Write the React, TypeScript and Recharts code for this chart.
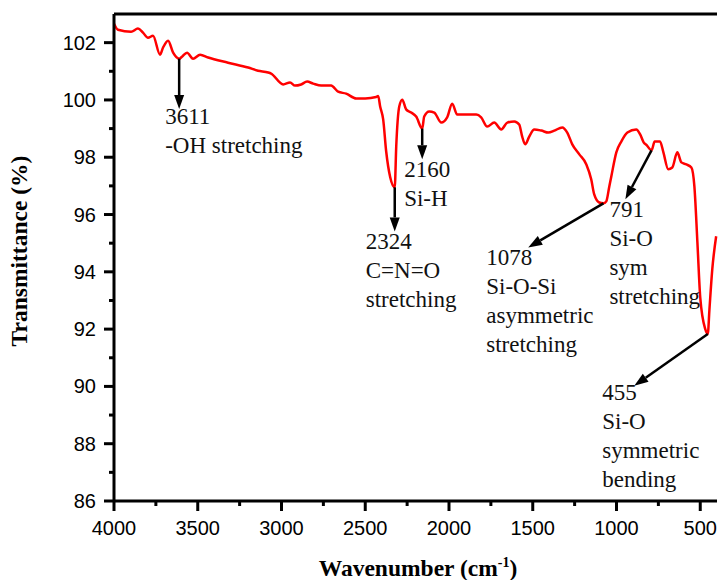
import { Label, Line, LineChart, ReferenceLine, XAxis, YAxis } from "recharts";

const wavenumber = [
  4000, 3976, 3898, 3857, 3827, 3797, 3767, 3725, 3707, 3677, 3647, 3611, 3594, 3564, 3528, 3486, 3438,
  3319, 3199, 3140, 3080, 3062, 2990, 2949, 2919, 2883, 2847, 2811, 2763, 2704, 2662, 2614, 2554, 2500,
  2435, 2423, 2411, 2393, 2375, 2351, 2324, 2315, 2297, 2279, 2256, 2226, 2196, 2160, 2148, 2118, 2088,
  2046, 2011, 1981, 1951, 1897, 1837, 1808, 1772, 1730, 1688, 1652, 1610, 1581, 1563, 1545, 1521, 1491,
  1449, 1407, 1371, 1324, 1294, 1264, 1222, 1180, 1151, 1133, 1103, 1078, 1061, 1043, 1031, 1001, 971,
  935, 882, 858, 838, 820, 791, 772, 740, 720, 691, 667, 637, 613, 583, 553, 535, 517, 500, 470, 455,
  445, 428, 405,
];
const transmittance = [
  102.66, 102.45, 102.38, 102.49, 102.35, 102.17, 102.24, 101.58, 101.83, 102.07, 101.65, 101.44, 101.51,
  101.65, 101.44, 101.58, 101.48, 101.3, 101.13, 101.02, 100.96, 100.92, 100.54, 100.61, 100.5, 100.54,
  100.64, 100.57, 100.5, 100.5, 100.29, 100.22, 100.05, 100.05, 100.1, 100.14, 99.77, 99.32, 98.2, 97.3,
  96.95, 98.38, 99.77, 100.01, 99.67, 99.56, 99.42, 99.0, 99.42, 99.6, 99.56, 99.21, 99.39, 99.87, 99.49,
  99.49, 99.49, 99.39, 99.07, 99.21, 98.97, 99.21, 99.25, 99.14, 98.72, 98.45, 98.72, 98.97, 98.93, 98.86,
  98.93, 99.04, 98.86, 98.45, 98.1, 97.75, 97.23, 96.7, 96.42, 96.39, 96.46, 96.98, 97.33, 98.17, 98.55,
  98.86, 98.97, 98.79, 98.52, 98.42, 98.24, 98.55, 98.55, 98.17, 97.58, 97.64, 98.17, 97.82, 97.75, 97.64,
  96.98, 95.03, 93.1, 92.0, 91.83, 92.7, 94.1, 95.24,
];

const xTicks = [4000, 3750, 3500, 3250, 3000, 2750, 2500, 2250, 2000, 1750, 1500, 1250, 1000, 750, 500];
const yTicks = [86, 87, 88, 89, 90, 91, 92, 93, 94, 95, 96, 97, 98, 99, 100, 101, 102];

// peak annotations
const peakWavenumber = [3611, 2324, 2160, 1078, 791, 455];
const arrowEndW = [3611, 2324, 2160, 1527, 947, 894];
const arrowEndT = [99.68, 95.41, 97.93, 94.85, 96.53, 90.02];
const peakNotes = [
  ["3611", "-OH stretching"],
  ["2324", "C=N=O", "stretching"],
  ["2160", "Si-H"],
  ["1078", "Si-O-Si", "asymmetric", "stretching"],
  ["791", "Si-O", "sym", "stretching"],
  ["455", "Si-O", "symmetric", "bending"],
];
const noteOffset = [
  [-14, 15],
  [-29, 18],
  [-18, 18],
  [-42, 18],
  [-16, 18],
  [-32, 14],
];

const data = wavenumber.map((w, i) => ({ w, t: transmittance[i] }));

const tickFont = { fontFamily: "'Liberation Sans', Arial, sans-serif", fontSize: 20 };
const serif = { fontFamily: "'Liberation Serif', 'Times New Roman', serif" };

function XTick(props: any) {
  const { x, y, payload } = props;
  const major = payload.value % 500 === 0;
  const axisY = y - 14;
  return (
    <g>
      <line x1={x} x2={x} y1={axisY} y2={axisY + (major ? 10 : 5)} stroke="#000" strokeWidth={3} />
      {major && (
        <text x={x} y={axisY + 34} textAnchor="middle" style={tickFont} fill="#000">
          {payload.value}
        </text>
      )}
    </g>
  );
}

function YTick(props: any) {
  const { x, y, payload } = props;
  const major = payload.value % 2 === 0;
  const axisX = x + 14;
  return (
    <g>
      <line x1={axisX} x2={axisX - (major ? 10 : 5)} y1={y} y2={y} stroke="#000" strokeWidth={3} />
      {major && (
        <text x={axisX - 18} y={y + 7} textAnchor="end" style={tickFont} fill="#000">
          {payload.value}
        </text>
      )}
    </g>
  );
}

function arrowShape(idx: number) {
  return (p: any) => {
    const { x1, y1, x2, y2 } = p;
    const dx = x2 - x1;
    const dy = y2 - y1;
    const len = Math.sqrt(dx * dx + dy * dy) || 1;
    const ux = dx / len;
    const uy = dy / len;
    const head = 14;
    const half = 5;
    const bx = x2 - ux * head;
    const by = y2 - uy * head;
    const [ox, oy] = noteOffset[idx];
    return (
      <g>
        <line x1={x1} y1={y1} x2={bx} y2={by} stroke="#000" strokeWidth={2.5} />
        <polygon
          points={`${x2},${y2} ${bx - uy * half},${by + ux * half} ${bx + uy * half},${by - ux * half}`}
          fill="#000"
        />
        {peakNotes[idx].map((s, i) => (
          <text key={i} x={x2 + ox} y={y2 + oy + i * 29} style={{ ...serif, fontSize: 23 }} fill="#111">
            {s}
          </text>
        ))}
      </g>
    );
  };
}

export default function App() {
  return (
    <div style={{ position: "absolute", left: 0, top: 0, background: "#fff" }}>
      <LineChart width={719} height={580} data={data} margin={{ top: 14, right: 2, left: 0, bottom: 0 }}>
        <XAxis
          xAxisId="top"
          orientation="top"
          type="number"
          dataKey="w"
          domain={[400, 4000]}
          reversed
          ticks={xTicks}
          interval={0}
          height={1}
          mirror
          tick={false}
          tickSize={4}
          tickLine={{ stroke: "#000", strokeWidth: 2 }}
          axisLine={{ stroke: "#000", strokeWidth: 3 }}
        />
        <XAxis
          xAxisId="bottom"
          type="number"
          dataKey="w"
          domain={[400, 4000]}
          reversed
          ticks={xTicks}
          interval={0}
          height={79}
          tickSize={10}
          tickMargin={4}
          tickLine={false}
          tick={XTick}
          axisLine={{ stroke: "#000", strokeWidth: 3 }}
        >
          <Label
            content={() => (
              <text x={418} y={576} textAnchor="middle" style={{ ...serif, fontSize: 23.5, fontWeight: "bold" }} fill="#000">
                Wavenumber (cm
                <tspan dy={-9} style={{ fontSize: 14 }}>
                  -1
                </tspan>
                <tspan dy={9}>)</tspan>
              </text>
            )}
          />
        </XAxis>
        <YAxis
          yAxisId="t"
          type="number"
          domain={[86, 103]}
          ticks={yTicks}
          interval={0}
          width={114}
          tickSize={10}
          tickMargin={4}
          tickLine={false}
          tick={YTick}
          axisLine={{ stroke: "#000", strokeWidth: 3 }}
        >
          <Label
            content={() => (
              <text
                x={27}
                y={251}
                transform="rotate(-90 27 251)"
                textAnchor="middle"
                style={{ ...serif, fontSize: 23.5, fontWeight: "bold" }}
                fill="#000"
              >
                Transmittance (%)
              </text>
            )}
          />
        </YAxis>
        <Line
          xAxisId="bottom"
          yAxisId="t"
          type="monotone"
          dataKey="t"
          stroke="#ff0000"
          strokeWidth={2.5}
          dot={false}
          isAnimationActive={false}
        />
        {peakWavenumber.map((w, i) => (
          <ReferenceLine
            key={w}
            xAxisId="bottom"
            yAxisId="t"
            segment={[
              { x: w, y: transmittance[wavenumber.indexOf(w)] },
              { x: arrowEndW[i], y: arrowEndT[i] },
            ]}
            shape={arrowShape(i)}
          />
        ))}
      </LineChart>
    </div>
  );
}
